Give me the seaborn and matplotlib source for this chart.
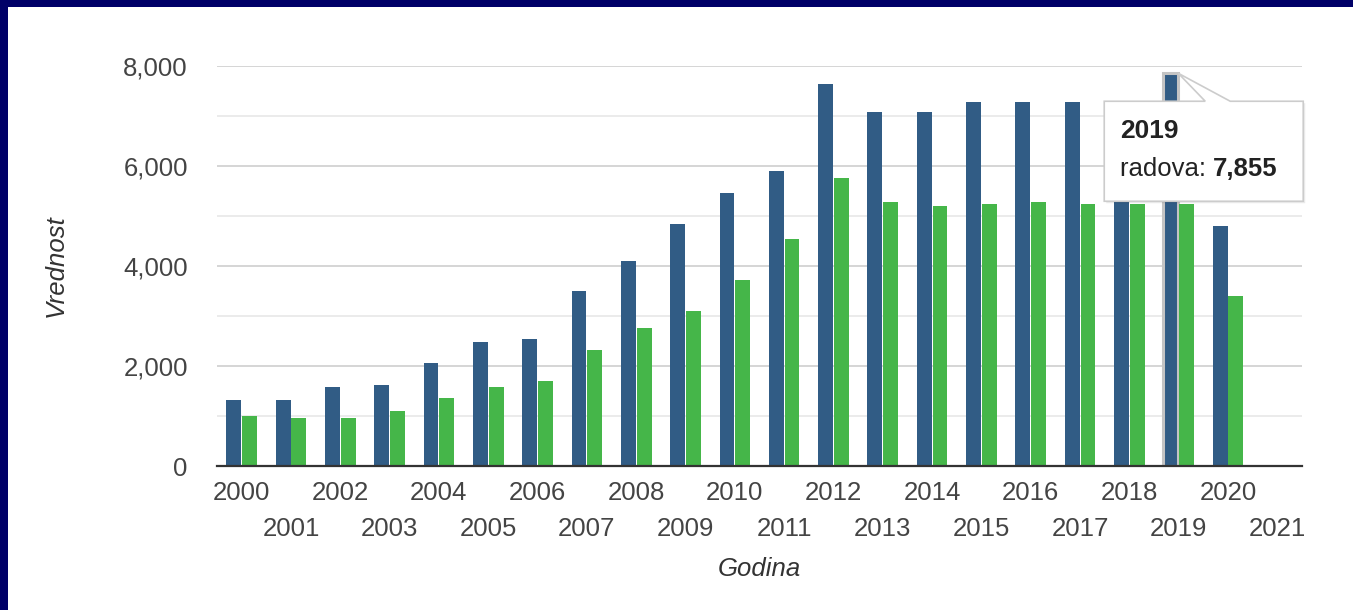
import numpy as np
import pandas as pd
import matplotlib
matplotlib.use("Agg")
import matplotlib.pyplot as plt
import seaborn as sns
from matplotlib.patches import Polygon, Rectangle
from matplotlib.ticker import FixedLocator

# Data
years = list(range(2000, 2022))
year_labels = [str(y) for y in years]
radova = [1320, 1320, 1575, 1625, 2060, 2490, 2540, 3500, 4105, 4845, 5455,
          5895, 7640, 7075, 7075, 7285, 7285, 7285, 7250, 7855, 4800]
drugi = [1005, 965, 965, 1100, 1360, 1575, 1705, 2320, 2755, 3105, 3715,
         4540, 5760, 5280, 5195, 5240, 5280, 5240, 5240, 5240, 3405]
series_names = ["radova", "ostalo"]
palette = {"radova": "#315c85", "ostalo": "#45b649"}

df = pd.DataFrame({
    "Godina": year_labels[:len(radova)] * 2,
    "Vrednost": radova + drugi,
    "serija": ["radova"] * len(radova) + ["ostalo"] * len(drugi),
})

sns.set_style("white")
plt.rcParams["font.family"] = ["Liberation Sans", "DejaVu Sans"]

W, H = 1353, 610
fig = plt.figure(figsize=(W / 100, H / 100), dpi=100)
ax = fig.add_axes([217 / W, 144 / H, 1085 / W, 400 / H])

sns.barplot(data=df, x="Godina", y="Vrednost", hue="serija",
            order=year_labels, hue_order=series_names, palette=palette,
            width=0.64, gap=0.06, saturation=1, legend=False, ax=ax,
            edgecolor="none", zorder=3)

ax.set_xlim(-0.5, len(years) - 0.5)
ax.set_ylim(0, 8000)

# y axis: labels every 2000, light lines every 1000
ax.yaxis.set_major_locator(FixedLocator(np.arange(0, 8001, 2000)))
ax.yaxis.set_minor_locator(FixedLocator(np.arange(1000, 8000, 2000)))
ax.set_yticks(np.arange(0, 8001, 2000), [f"{v:,}" for v in range(0, 8001, 2000)])
ax.grid(axis="y", which="major", color="#d2d2d2", linewidth=1.3, zorder=0)
ax.grid(axis="y", which="minor", color="#e9e9e9", linewidth=1.3, zorder=0)
ax.set_axisbelow(True)

# x axis: years staggered on two rows
pos = np.arange(len(years))
ax.set_xticks(pos[::2], year_labels[::2])
ax.set_xticks(pos[1::2], year_labels[1::2], minor=True)
ax.tick_params(axis="x", which="major", length=0, pad=11, labelsize=18.5, labelcolor="#444444")
ax.tick_params(axis="x", which="minor", length=0, pad=37, labelsize=18.5, labelcolor="#444444")
ax.tick_params(axis="y", which="both", length=0, pad=21, labelsize=18.5, labelcolor="#444444")

for s in ["top", "right", "left"]:
    ax.spines[s].set_visible(False)
ax.spines["bottom"].set_color("#333333")
ax.spines["bottom"].set_linewidth(1.6)
ax.spines["bottom"].set_zorder(5)

ax.set_xlabel("Godina", fontsize=18.5, style="italic", color="#333333")
ax.set_ylabel("Vrednost", fontsize=18.5, style="italic", color="#333333")
ax.xaxis.set_label_coords(0.5, -0.2575)
ax.xaxis.label.set_va("center")
ax.yaxis.set_label_coords(-0.149, 0.5)
ax.yaxis.label.set_va("center")

# highlight of the hovered 2019 bar
i19 = years.index(2019)
bar19 = None
for bar in ax.containers[0]:
    if abs(bar.get_x() + bar.get_width() / 2 - i19) < 0.5:
        bar19 = bar
bar19.set_edgecolor("#c4c4c4")
bar19.set_linewidth(2.2)

# tooltip
tip = ax.transData.transform((bar19.get_x() + bar19.get_width(), radova[i19]))
tx, ty = tip[0], tip[1]
# box relative to the tip, in pixels (y up)
box = [(-74, -28), (27, -28), (0, 0), (52, -28), (125, -28), (125, -128), (-74, -128)]
px = [(tx + dx, ty + dy) for dx, dy in box]
shadow = Polygon([(x + 2, y - 2) for x, y in px], closed=True, transform=None,
                 facecolor="#000000", alpha=0.08, edgecolor="none", zorder=10)
shape = Polygon(px, closed=True, transform=None, facecolor="white",
                edgecolor="#cccccc", linewidth=1.2, zorder=11)
fig.patches.extend([shadow, shape])

bx, by = tx - 74, ty - 28
t0 = fig.text((bx + 16) / W, (by - 30) / H, str(years[i19]), fontsize=19,
              fontweight="bold", color="#222222", ha="left", va="center", zorder=12)
t1 = fig.text((bx + 16) / W, (by - 68) / H, f"{series_names[0]}: ", fontsize=18.5,
              color="#222222", ha="left", va="center", zorder=12)
fig.texts.append(plt.Annotation(f"{radova[i19]:,}", xy=(1, 0), xycoords=t1,
                                fontsize=18.5, fontweight="bold", color="#222222",
                                ha="left", va="bottom", zorder=12))
fig.texts[-1].figure = fig

# navy frame on the left and top
fig.patches.append(Rectangle((0, 0), 8 / W, 1, transform=fig.transFigure,
                             facecolor="#000068", edgecolor="none", zorder=20))
fig.patches.append(Rectangle((0, 1 - 7 / H), 1, 7 / H, transform=fig.transFigure,
                             facecolor="#000068", edgecolor="none", zorder=20))

fig.savefig("out.png", dpi=100)
